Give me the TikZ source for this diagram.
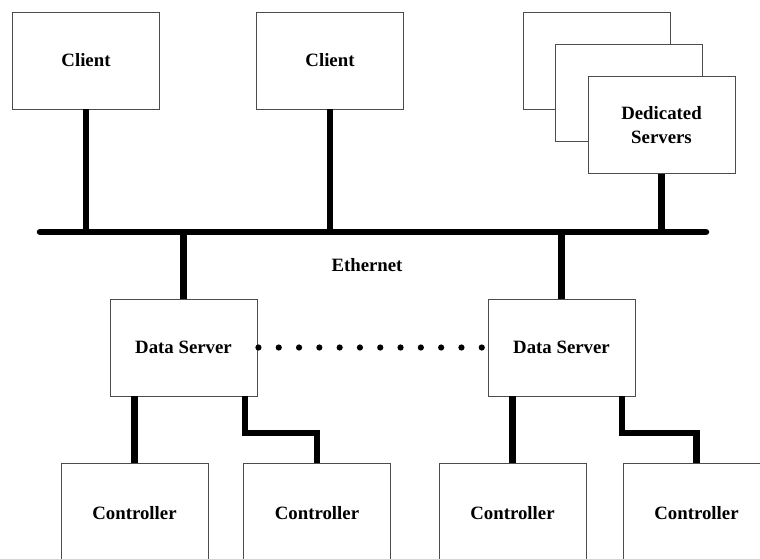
\documentclass[tikz,border=0pt]{standalone}
\usepackage{fontspec}
\setmainfont{Liberation Serif}
\usetikzlibrary{calc}
\begin{document}
\begin{tikzpicture}[x=1pt,y=-1pt,
  box/.style={draw=black!70, line width=0.9pt, fill=white, minimum width=147pt,
    minimum height=97pt, inner sep=0pt, align=center,
    font=\fontsize{18.8}{24}\selectfont\bfseries},
  wire/.style={line width=6.5pt, line cap=butt},
  bus/.style={line width=6.5pt, line cap=round},
  lbl/.style={font=\fontsize{18.8}{22}\selectfont\bfseries}]
\useasboundingbox (0,0) rectangle (760,558);

% clients
\node[box] (cl1) at (86,60.5) {Client};
\node[box] (cl2) at (330,60.5) {Client};

% stacked dedicated servers
\node[box] (ds-back) at (596.5,60.5) {};
\node[box] (ds-mid) at (628.5,93) {};
\node[box] (ded) at (661.5,125) {Dedicated\\Servers};

% ethernet bus
\coordinate (busL) at (40,232);
\coordinate (busR) at (706,232);
\draw[bus] (busL) -- (busR);
\node[lbl] (eth) at (367,265) {Ethernet};

% data servers
\node[box] (srv1) at (183.5,347.5) {Data Server};
\node[box] (srv2) at (561.5,347.5) {Data Server};

% controllers (run off the bottom edge)
\node[box, minimum height=100pt] (ctl1) at (134.5,513.5) {Controller};
\node[box, minimum height=100pt] (ctl2) at (317,513.5) {Controller};
\node[box, minimum height=100pt] (ctl3) at (512.5,513.5) {Controller};
\node[box, minimum height=100pt] (ctl4) at (696.5,513.5) {Controller};

% taps onto the bus
\draw[wire] (cl1.south) -- (cl1.south |- busL);
\draw[wire] (cl2.south) -- (cl2.south |- busL);
\draw[wire] (ded.south) -- (ded.south |- busL);
\draw[wire] (srv1.north) -- (srv1.north |- busL);
\draw[wire] (srv2.north) -- (srv2.north |- busL);

% data servers to controllers
\coordinate (tap1) at (245,433);
\coordinate (tap2) at (622,433);
\draw[wire] (ctl1.north) -- (ctl1.north |- srv1.south);
\draw[wire] (ctl3.north) -- (ctl3.north |- srv2.south);
\draw[wire, line join=miter] (tap1 |- srv1.south) -- (tap1) -| (ctl2.north);
\draw[wire, line join=miter] (tap2 |- srv2.south) -- (tap2) -| (ctl4.north);

% dotted link between the data servers
\foreach \k in {0,...,11}
  \fill ($(srv1.east)+(1+20.3*\k,0)$) circle (3.1pt);
\end{tikzpicture}
\end{document}
